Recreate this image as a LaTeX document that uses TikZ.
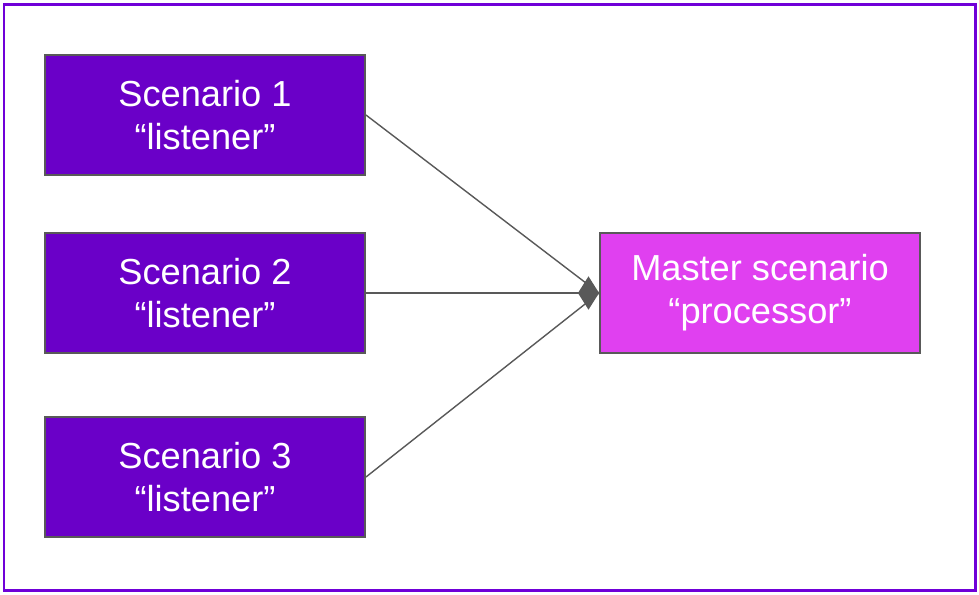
\documentclass[tikz,border=0pt]{standalone}
\usepackage{fontspec}
\setmainfont{Liberation Sans}
\usetikzlibrary{arrows.meta}
\definecolor{framepurple}{HTML}{7000D8}
\definecolor{listenerfill}{HTML}{6A00C8}
\definecolor{masterfill}{HTML}{E040F0}
\definecolor{edgegray}{HTML}{595959}
\begin{document}
\begin{tikzpicture}[>={Diamond[length=12pt,width=19pt]}]
    \tikzset{
        scenbox/.style={draw=edgegray, line width=1.1pt, minimum width=6.4cm, minimum height=2.4cm,
            text=white, align=center, font=\fontsize{20.6}{24.5}\selectfont},
        link/.style={draw=edgegray, fill=edgegray, line width=0.8pt}
    }
    \useasboundingbox (0, 0) rectangle (19.58, -11.88);
    \draw[framepurple, line width=1.7pt] (0.08, -0.08) rectangle (19.5, -11.8);

    % listeners
    \node[scenbox, fill=listenerfill] (s1) at (4.1, -2.3) {Scenario 1\\“listener”};
    \node[scenbox, fill=listenerfill] (s2) at (4.1, -5.86) {Scenario 2\\“listener”};
    \node[scenbox, fill=listenerfill] (s3) at (4.1, -9.54) {Scenario 3\\“listener”};

    % processor
    \node[scenbox, fill=masterfill] (m) at (15.2, -5.86) {Master scenario\\“processor”};

    % links
    \draw[link] (s1.east) -- (m.west);
    \draw[link] (s3.east) -- (m.west);
    \draw[link, ->] (s2.east) -- (m.west);
\end{tikzpicture}
\end{document}
